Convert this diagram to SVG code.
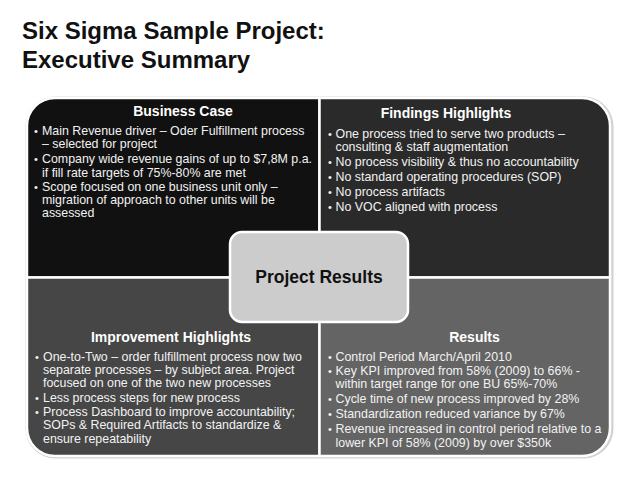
<svg xmlns="http://www.w3.org/2000/svg" width="638" height="479" viewBox="0 0 638 479">
<style>
.title{font-family:"Liberation Sans",Arial,sans-serif;font-weight:bold;font-size:24px;fill:#111}
.head{font-family:"Liberation Sans",Arial,sans-serif;font-weight:bold;font-size:14px;fill:#fff;text-anchor:middle}
.body{font-family:"Liberation Sans",Arial,sans-serif;font-size:12.4px;fill:#f2f2f2}
.bul{font-family:"Liberation Sans",Arial,sans-serif;font-size:11px;fill:#f2f2f2}
.quad{stroke:#fff;stroke-width:2.5}
.center{font-family:"Liberation Sans",Arial,sans-serif;font-weight:bold;font-size:17.5px;fill:#111;text-anchor:middle}
</style>
<rect width="638" height="479" fill="#fff"/>
<g id="title">
<text class="title" x="22" y="39">Six Sigma Sample Project:</text>
<text class="title" x="22" y="68">Executive Summary</text>
</g>
<rect id="frame-shadow" x="25.5" y="96.5" width="588" height="362" rx="30" fill="#d2d2d2"/>
<g id="business-case">
<path class="quad" d="M27,126 A28,28 0 0 1 55,98 H319.5 V277.5 H27 Z" fill="#111111"/>
<text class="head" x="183" y="116">Business Case</text>
<text class="bul" x="34" y="135">•</text>
<text class="body" x="42" y="135">Main Revenue driver – Oder Fulfillment process</text>
<text class="body" x="42" y="148.3">– selected for project</text>
<text class="bul" x="34" y="163.3">•</text>
<text class="body" x="42" y="163.3">Company wide revenue gains of up to $7,8M p.a.</text>
<text class="body" x="42" y="176.6">if fill rate targets of 75%-80% are met</text>
<text class="bul" x="34" y="190.7">•</text>
<text class="body" x="42" y="190.7">Scope focused on one business unit only –</text>
<text class="body" x="42" y="204">migration of approach to other units will be</text>
<text class="body" x="42" y="217.3">assessed</text>
</g>
<g id="findings-highlights">
<path class="quad" d="M319.5,98 H582 A28,28 0 0 1 610,126 V277.5 H319.5 Z" fill="#2a2a2a"/>
<text class="head" x="446" y="117.5">Findings Highlights</text>
<text class="bul" x="328" y="137.5">•</text>
<text class="body" x="335.5" y="137.5">One process tried to serve two products –</text>
<text class="body" x="335.5" y="151">consulting &amp; staff augmentation</text>
<text class="bul" x="328" y="166">•</text>
<text class="body" x="335.5" y="166">No process visibility &amp; thus no accountability</text>
<text class="bul" x="328" y="181">•</text>
<text class="body" x="335.5" y="181">No standard operating procedures (SOP)</text>
<text class="bul" x="328" y="195.5">•</text>
<text class="body" x="335.5" y="195.5">No process artifacts</text>
<text class="bul" x="328" y="210.5">•</text>
<text class="body" x="335.5" y="210.5">No VOC aligned with process</text>
</g>
<g id="improvement-highlights">
<path class="quad" d="M27,277.5 H319.5 V456 H55 A28,28 0 0 1 27,428 Z" fill="#464646"/>
<text class="head" x="171" y="341.5">Improvement Highlights</text>
<text class="bul" x="35" y="360.7">•</text>
<text class="body" x="43" y="360.7">One-to-Two – order fulfillment process  now two</text>
<text class="body" x="43" y="374">separate processes – by subject area. Project</text>
<text class="body" x="43" y="387.3">focused on one of the two new processes</text>
<text class="bul" x="35" y="401.7">•</text>
<text class="body" x="43" y="401.7">Less process steps for new process</text>
<text class="bul" x="35" y="416">•</text>
<text class="body" x="43" y="416">Process Dashboard to improve accountability;</text>
<text class="body" x="43" y="429.3">SOPs &amp; Required Artifacts to standardize &amp;</text>
<text class="body" x="43" y="442.6">ensure repeatability</text>
</g>
<g id="results">
<path class="quad" d="M319.5,277.5 H610 V428 A28,28 0 0 1 582,456 H319.5 Z" fill="#646464"/>
<text class="head" x="474.5" y="341.5">Results</text>
<text class="bul" x="328" y="360.7">•</text>
<text class="body" x="335.5" y="360.7">Control Period March/April 2010</text>
<text class="bul" x="328" y="375">•</text>
<text class="body" x="335.5" y="375">Key KPI improved from 58% (2009) to 66% -</text>
<text class="body" x="335.5" y="388.3">within target range for one BU 65%-70%</text>
<text class="bul" x="328" y="403.3">•</text>
<text class="body" x="335.5" y="403.3">Cycle time of new process improved by 28%</text>
<text class="bul" x="328" y="418.3">•</text>
<text class="body" x="335.5" y="418.3">Standardization reduced variance by 67%</text>
<text class="bul" x="328" y="433.3">•</text>
<text class="body" x="335.5" y="433.3">Revenue increased in control period relative to a</text>
<text class="body" x="335.5" y="446.6">lower KPI of 58% (2009) by over $350k</text>
</g>
<g id="project-results">
<rect x="230" y="232" width="178" height="90" rx="12" fill="#cccccc" stroke="#fff" stroke-width="2.5"/>
<text class="center" x="319" y="283.3">Project Results</text>
</g>
</svg>
